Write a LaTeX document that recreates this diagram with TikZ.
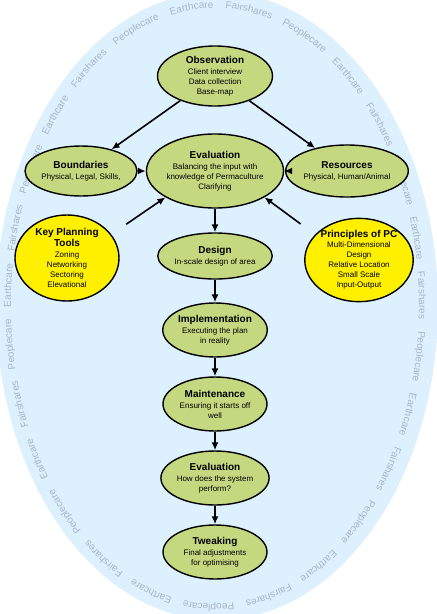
\documentclass[tikz,border=0pt]{standalone}
\usepackage{fontspec}
\setmainfont{Liberation Sans}
\usetikzlibrary{shapes.geometric,arrows.meta,decorations.text,calc}
\definecolor{bgblue}{RGB}{221,240,253}
\definecolor{nodegreen}{RGB}{196,216,128}
\definecolor{nodeyellow}{RGB}{255,240,0}
\definecolor{ringtext}{RGB}{168,182,200}
\newcommand\nodetitle[1]{{\fontsize{10}{11}\selectfont\bfseries #1}}
\begin{document}
\begin{tikzpicture}[x=1pt,y=-1pt,
  bubble/.style={ellipse, draw=black, line width=1.4pt, fill=nodegreen, inner sep=0pt, align=center, font=\fontsize{8}{10}\selectfont},
  keybubble/.style={bubble, fill=nodeyellow},
  flow/.style={line width=1.6pt, -{Latex[length=8pt,width=7pt]}},
  ringdeco/.style={decorate, decoration={text along path, text align={fit to path stretching spaces},
    text={|\fontsize{10}{12}\selectfont\color{ringtext}|Earthcare Fairshares Peoplecare Earthcare Fairshares Peoplecare Earthcare Fairshares Peoplecare Earthcare Fairshares Peoplecare Earthcare Fairshares Peoplecare Earthcare Fairshares Peoplecare Earthcare Fairshares Peoplecare Earthcare Fairshares Peoplecare Earthcare Fairshares Peoplecare}}}
]
\useasboundingbox (0,0) rectangle (437,614);
\clip (0,0) rectangle (437,614);
\fill[bgblue] (217,306) ellipse [x radius=221pt, y radius=314pt];
\coordinate (ec) at (215,306);
\path[ringdeco] ($(ec)+(102.5:204pt and 298pt)$) arc[start angle=102.5, end angle=-254, x radius=204pt, y radius=298pt];

\node[bubble, minimum width=115pt, minimum height=60pt] (obs) at (215,76)
  {\nodetitle{Observation}\\[1pt]Client interview\\Data collection\\Base-map};
\node[bubble, minimum width=128pt, minimum height=74pt] (eval) at (215,171)
  {\nodetitle{Evaluation}\\[1pt]Balancing the input with\\knowledge of Permaculture\\Clarifying};
\node[bubble, minimum width=104pt, minimum height=50pt] (bnd) at (81,171)
  {\nodetitle{Boundaries}\\[1pt]Physical, Legal, Skills,};
\node[bubble, minimum width=100pt, minimum height=52pt] (res) at (347,171)
  {\nodetitle{Resources}\\[1pt]Physical, Human/Animal};
\node[keybubble, minimum width=104pt, minimum height=86pt] (key) at (67,258)
  {\nodetitle{Key Planning}\\[1pt]\nodetitle{Tools}\\[1pt]Zoning\\Networking\\Sectoring\\Elevational};
\node[keybubble, minimum width=108pt, minimum height=82pt] (pc) at (359,260)
  {\nodetitle{Principles of PC}\\Multi-Dimensional\\Design\\Relative Location\\Small Scale\\Input-Output};
\node[bubble, minimum width=104pt, minimum height=46pt] (des) at (215,256)
  {\nodetitle{Design}\\[1pt]In-scale design of area};
\node[bubble, minimum width=104pt, minimum height=54pt] (impl) at (215,330)
  {\nodetitle{Implementation}\\[1pt]Executing the plan\\in reality};
\node[bubble, minimum width=104pt, minimum height=54pt] (mnt) at (215,404)
  {\nodetitle{Maintenance}\\[1pt]Ensuring it starts off\\well};
\node[bubble, minimum width=104pt, minimum height=54pt] (evtwo) at (215,478)
  {\nodetitle{Evaluation}\\[1pt]How does the system\\perform?};
\node[bubble, minimum width=104pt, minimum height=54pt] (twk) at (215,552)
  {\nodetitle{Tweaking}\\[1pt]Final adjustments\\for optimising};

\draw[flow] (obs) -- (bnd);
\draw[flow] (obs) -- (res);
\draw[flow] (bnd) -- (eval);
\draw[flow] (res) -- (eval);
\draw[flow, shorten <=18pt] (key.28) -- (eval.208);
\draw[flow, shorten <=18pt] (pc.150) -- (eval.332);
\draw[flow] (eval) -- (des);
\draw[flow] (des) -- (impl);
\draw[flow] (impl) -- (mnt);
\draw[flow] (mnt) -- (evtwo);
\draw[flow] (evtwo) -- (twk);
\end{tikzpicture}
\end{document}
